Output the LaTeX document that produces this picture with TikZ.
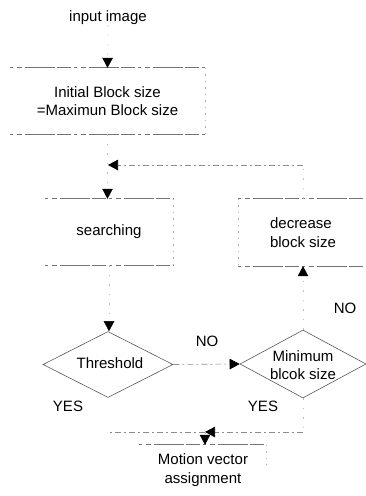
\documentclass[tikz,border=0pt]{standalone}
\usepackage{fontspec}
\setmainfont{Liberation Sans}
\usetikzlibrary{shapes.geometric,arrows.meta}
\begin{document}
\begin{tikzpicture}[x=1pt,y=-1pt,
  every node/.style={font=\fontsize{15}{18.5}\selectfont, text=black},
  boxn/.style={rectangle, draw=none, inner sep=0pt, align=center},
  edgeln/.style={draw=black!55, line width=0.8pt, dash pattern=on 3pt off 4pt on 5pt off 3pt on 30pt off 2pt on 14pt off 3pt},
  faint/.style={draw=black!30, line width=0.5pt, dash pattern=on 1.5pt off 5pt},
  conn/.style={draw=black!45, line width=0.6pt, dash pattern=on 6pt off 3pt on 2pt off 3pt},
  vconn/.style={draw=black!25, line width=0.5pt, dash pattern=on 1.5pt off 8pt},
  tip/.style={-{Triangle[width=10.5pt,length=10pt,color=black]}},
  dia/.style={diamond, draw=black!65, line width=0.6pt, inner sep=0pt},
  lbl/.style={inner sep=0pt}
]
\useasboundingbox (0,0) rectangle (366,496);
\fill[white] (0,0) rectangle (366,496);

% nodes
\node[lbl] (input) at (108,18) {input image};
\node[boxn, minimum width=195pt, minimum height=66pt] (init) at (107.5,101) {Initial Block size\\=Maximun Block size};
\node[boxn, minimum width=128pt, minimum height=66pt] (search) at (109,232) {searching};
\node[boxn, minimum width=130pt, minimum height=67pt, align=left] (decr) at (303,232.5) {decrease\\block size};
\node[dia, minimum width=130pt, minimum height=66pt] (thr) at (108,364.5) {};
\node[lbl] (thrt) at (110,363) {Threshold};
\node[dia, minimum width=126pt, minimum height=68pt] (mini) at (303,364) {};
\node[lbl, align=center] (minit) at (303,365) {Minimum\\blcok size};
\node[boxn, minimum width=127pt, minimum height=50pt] (motion) at (203,470) {Motion vector\\assignment};

% labels
\node[lbl] (no1) at (207,341) {NO};
\node[lbl] (no2) at (345,308) {NO};
\node[lbl] (yes1) at (68,406) {YES};
\node[lbl] (yes2) at (263,406) {YES};

% box edges
\draw[edgeln] (init.north west) -- (init.north east);
\draw[edgeln] (init.south west) -- (init.south east);
\draw[faint] (init.north east) -- (init.south east);
\draw[edgeln] (search.north west) -- (search.north east);
\draw[edgeln] (search.south west) -- (search.south east);
\draw[faint] (search.north east) -- (search.south east);
\draw[edgeln] (decr.north west) -- (decr.north east);
\draw[edgeln] (decr.south west) -- (decr.south east);
\draw[faint] (decr.north west) -- (decr.south west);
\draw[edgeln] (motion.north west) -- (motion.north east);
\draw[faint] (motion.north east) -- ([yshift=-20pt]motion.north east);

% connectors
\coordinate (m1) at (108,165);
\coordinate (fb) at (303,165);
\coordinate (jr) at (303,432);
\coordinate (jl) at (108,432);
\coordinate (jm) at (205,432);
\draw[vconn, tip] (input.south) -- (init.north);
\draw[vconn, tip] (init.south) -- (init.south |- search.north);
\draw[vconn] (decr.north) -- (fb);
\draw[conn, tip] (fb) -- (m1);
\draw[vconn, tip] (search.south) -- (search.south |- thr.north);
\draw[conn, tip] (thr.east) -- (mini.west);
\draw[vconn, tip] (mini.north) -- (decr.south);
\draw[vconn] (mini.south) -- (jr);
\draw[conn] (jm) -- (jl);
\draw[conn, tip] (jr) -- (jm);
\draw[vconn, tip] (jm) -- (jm |- motion.north);
\end{tikzpicture}
\end{document}
